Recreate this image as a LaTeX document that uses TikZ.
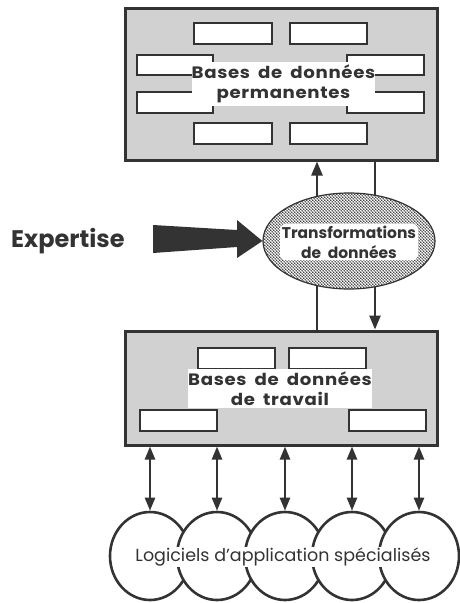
\documentclass[tikz,border=0pt]{standalone}
\usepackage{fontspec}
\setmainfont{Poppins}
\newfontfamily\widefont[FakeStretch=1.1,LetterSpace=4,WordSpace=1.8]{Poppins}
\usetikzlibrary{patterns.meta,arrows.meta,shapes.geometric}
\definecolor{ink}{rgb}{0.2,0.2,0.2}
\definecolor{shade}{rgb}{0.82,0.82,0.82}
\tikzdeclarepattern{
  name=stipple,
  type=uncolored,
  bottom left={(0pt,0pt)},
  top right={(3.4pt,3.4pt)},
  tile size={(3.4pt,3.4pt)},
  code={
    \tikzset{x=1pt,y=1pt}
    \fill (0.85,0.85) circle (0.95);
    \fill (2.55,2.55) circle (0.95);
  }
}
\tikzset{%
  base/.style={draw=ink,line width=3pt,fill=shade,inner sep=0pt},
  slot/.style={draw=ink,line width=1.8pt,fill=white},
  tag/.style={fill=white,text=ink,align=center,inner sep=0pt,font=\widefont\bfseries\fontsize{16.5}{20}\selectfont},
  flow/.style={draw=ink,line width=2.4pt},
  tip/.style={-{Triangle[length=14pt,width=11pt]}},
  both/.style={{Triangle[length=13pt,width=10pt]}-{Triangle[length=13pt,width=10pt]}},
  app/.style={ellipse,draw=ink,line width=2.6pt,fill=white,minimum width=80pt,minimum height=88pt,inner sep=0pt}
}
\NewDocumentCommand\dbSlot{mm}{%
  \draw[slot] (#1) rectangle (#2);
}
\begin{document}
\begin{tikzpicture}[x=1pt,y=-1pt]
  \useasboundingbox (0,0) rectangle (459,603);
  % Permanent data bases
  \node[base,minimum width=312pt,minimum height=152pt] (perm) at (281,84) {};
  \dbSlot{194,23}{272,44}
  \dbSlot{290,23}{367,44}
  \dbSlot{137,55}{213,75}
  \dbSlot{347,55}{424,75}
  \dbSlot{137,92}{213,113}
  \dbSlot{347,92}{424,113}
  \dbSlot{194,123}{272,144}
  \dbSlot{290,123}{367,144}
  \node[tag,minimum width=183pt,minimum height=44pt] (permtxt) at (283.5,84) {Bases de données\\permanentes};
  % Working data bases
  \node[base,minimum width=312pt,minimum height=114pt] (work) at (281,388) {};
  \dbSlot{198,348}{275,369}
  \dbSlot{289,348}{366,369}
  \dbSlot{140,410}{217,431}
  \dbSlot{349,410}{426,431}
  \node[tag,minimum width=180pt,minimum height=39pt] (worktxt) at (280,388.5) {Bases de données\\de travail};
  % Transformations
  \coordinate (upx) at (317,0);
  \coordinate (downx) at (375,0);
  \draw[flow,tip] (work.north -| upx) -- (perm.south -| upx);
  \draw[flow,tip] (perm.south -| downx) -- (work.north -| downx);
  \node[ellipse,draw=ink,line width=1.2pt,minimum width=172pt,minimum height=96pt,
    preaction={fill=white},pattern=stipple,pattern color=ink] (trans) at (349,241) {};
  \node[tag,font=\bfseries\fontsize{15.5}{20}\selectfont,inner sep=2pt,rounded corners=6pt] (transtxt) at (349,242) {Transformations\\de\ \ données};
  % Expertise
  \node[text=ink,font=\bfseries\fontsize{24}{26}\selectfont,anchor=west,inner sep=0pt] (expert) at (11,241) {Expertise};
  \fill[ink] (153,225) -- (237,230) -- (237,220) -- (trans.west) -- (237,258) -- (237,247) -- (153,253) -- cycle;
  % Application programs
  \node[app] (app1) at (150,556) {};
  \node[app] (app2) at (217,556) {};
  \node[app] (app3) at (285,556) {};
  \node[app] (app4) at (352,556) {};
  \node[app] (app5) at (419,556) {};
  \node[fill=white,text=ink,inner sep=1pt,font=\fontsize{17.5}{20}\selectfont] (apptxt) at (283,557) {Logiciels d'application spécialisés};
  \draw[flow,both] (work.south -| app1) -- (app1.north);
  \draw[flow,both] (work.south -| app2) -- (app2.north);
  \draw[flow,both] (work.south -| app3) -- (app3.north);
  \draw[flow,both] (work.south -| app4) -- (app4.north);
  \draw[flow,both] (work.south -| app5) -- (app5.north);
\end{tikzpicture}
\end{document}
